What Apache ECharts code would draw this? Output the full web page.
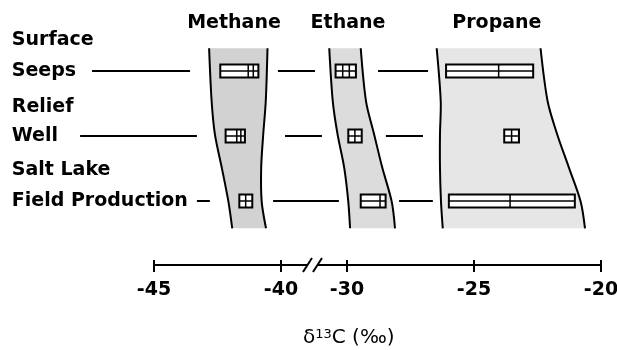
<!DOCTYPE html>
<html>
<head>
<meta charset="utf-8">
<script src="https://cdn.jsdelivr.net/npm/echarts@6/dist/echarts.min.js"></script>
<style>
    html, body { margin: 0; background: #fff; }
    #chart { width: 617px; height: 350px; }
</style>
</head>
<body>
<div id="chart"></div>
<script>
// δ13C (‰) of gas components, axis broken between -40 and -30
const gases = ['Methane', 'Ethane', 'Propane'];
const gasLabelAt = [-41.85, -29.96, -24.1];

const rowLabels = ['Surface', 'Seeps', 'Relief', 'Well', 'Salt Lake', 'Field Production'];
const rowLabelAt = [-0.47, 0, 0.55, 1, 1.53, 2];

// measured ranges: [low, high, dividers], rows: seeps, well, field production
const methaneBoxes = [[-42.39, -40.89, [-41.29, -41.09]], [-42.18, -41.42, [-41.74, -41.58]], [-41.64, -41.13, [-41.39]]];
const ethaneBoxes = [[-30.45, -29.65, [-30.17, -29.91]], [-29.95, -29.42, [-29.69]], [-29.46, -28.48, [-28.7]]];
const propaneBoxes = [[-26.1, -22.67, [-24.03]], [-23.81, -23.23, [-23.52]], [-25.99, -21.03, [-23.58]]];

// shaded envelope of each gas, sampled down the rows
const bandRows = [-0.35, 0.47, 0.98, 1.49, 2.01, 2.42];
const methaneLeft = [-42.83, -42.73, -42.6, -42.33, -42.07, -41.92];
const methaneRight = [-40.53, -40.6, -40.7, -40.78, -40.76, -40.59];
const ethaneLeft = [-30.7, -30.56, -30.37, -30.11, -29.95, -29.88];
const ethaneRight = [-29.46, -29.25, -28.93, -28.61, -28.24, -28.11];
const propaneLeft = [-26.47, -26.31, -26.34, -26.34, -26.3, -26.23];
const propaneRight = [-22.38, -22.1, -21.72, -21.26, -20.8, -20.63];

// leader lines: [row, from, to]
const connectors = [
    [0, -47.44, -43.58], [0, -40.12, -38.66], [0, -28.78, -26.81],
    [1, -47.91, -43.31], [1, -39.84, -38.39], [1, -28.47, -27.01],
    [2, -43.31, -42.8], [2, -40.31, -30.32], [2, -27.95, -26.62]
];

const tickValues = [-45, -40, -30, -25, -20];
const breakAt = -38.76;
const BREAK_SHIFT = 7.4;

const toAxis = (v) => (v < -35 ? v : v - BREAK_SHIFT);
const fromAxis = (d) => (d < -38.7 ? d : d + BREAK_SHIFT);
const nearest = (list, v) => {
    let best = 0;
    list.forEach((x, i) => { if (Math.abs(x - v) < Math.abs(list[best] - v)) best = i; });
    return best;
};

const bands = [
    { left: methaneLeft, right: methaneRight, fill: '#d2d2d2' },
    { left: ethaneLeft, right: ethaneRight, fill: '#dcdcdc' },
    { left: propaneLeft, right: propaneRight, fill: '#e6e6e6' }
];
const boxes = [];
[methaneBoxes, ethaneBoxes, propaneBoxes].forEach((list) => {
    list.forEach((b, row) => boxes.push({ lo: b[0], hi: b[1], splits: b[2], row: row }));
});

const FONT = '"DejaVu Sans", sans-serif';
const chart = echarts.init(document.getElementById('chart'));

chart.setOption({
    animation: false,
    backgroundColor: '#fff',
    title: {
        text: '{d|δ}{s|13}{d|C (‰)}',
        left: 303,
        top: 328,
        padding: 0,
        textStyle: {
            rich: {
                d: { fontSize: 20, fontFamily: FONT, fontWeight: 'normal', color: '#000' },
                s: { fontSize: 13, fontFamily: FONT, fontWeight: 'normal', color: '#000', verticalAlign: 'top' }
            }
        }
    },
    grid: [
        { left: 77.8, right: 16, top: 32, bottom: 110, outerBoundsMode: 'none' },
        { left: 154, right: 16, top: 255, height: 10, outerBoundsMode: 'none' }
    ],
    xAxis: [
        { gridIndex: 0, type: 'value', min: -48, max: -27.4, show: false },
        {
            gridIndex: 0, type: 'value', position: 'top', min: -48, max: -27.4,
            axisLine: { show: false }, axisTick: { show: false }, splitLine: { show: false },
            axisLabel: {
                customValues: gasLabelAt.map(toAxis),
                margin: 9,
                verticalAlign: 'middle',
                fontSize: 19, fontWeight: 'bold', fontFamily: FONT, color: '#000',
                formatter: (v) => gases[nearest(gasLabelAt.map(toAxis), v)]
            }
        },
        {
            gridIndex: 1, type: 'value', position: 'bottom', min: -45, max: -27.4,
            splitLine: { show: false },
            axisLine: { lineStyle: { color: '#000', width: 2 } },
            axisTick: { customValues: tickValues.map(toAxis), length: 7, lineStyle: { color: '#000', width: 2 } },
            axisLabel: {
                customValues: tickValues.map(toAxis),
                margin: 16,
                fontSize: 19, fontWeight: 'bold', fontFamily: FONT, color: '#000',
                formatter: (v) => String(Math.round(fromAxis(v)))
            }
        },
        {
            gridIndex: 1, type: 'value', position: 'bottom', min: -45, max: -27.4,
            splitLine: { show: false }, axisLine: { show: false }, axisLabel: { show: false },
            axisTick: { customValues: tickValues.map(toAxis), inside: true, length: 5, lineStyle: { color: '#000', width: 2 } }
        }
    ],
    yAxis: [
        {
            gridIndex: 0, type: 'value', inverse: true, min: -0.6, max: 2.6,
            axisLine: { show: false }, axisTick: { show: false }, splitLine: { show: false },
            axisLabel: {
                customValues: rowLabelAt,
                align: 'left',
                margin: 66,
                fontSize: 19, fontWeight: 'bold', fontFamily: FONT, color: '#000',
                formatter: (v) => rowLabels[nearest(rowLabelAt, v)]
            }
        },
        { gridIndex: 1, type: 'value', min: 0, max: 1, show: false }
    ],
    series: [
        {
            type: 'custom',
            xAxisIndex: 0, yAxisIndex: 0,
            data: bands.map((b, i) => [i]),
            renderItem: (params, api) => {
                const b = bands[params.dataIndex];
                const left = bandRows.map((r, i) => api.coord([toAxis(b.left[i]), r]));
                const right = bandRows.map((r, i) => api.coord([toAxis(b.right[i]), r]));
                return {
                    type: 'group',
                    children: [
                        { type: 'polygon', shape: { points: left.concat(right.slice().reverse()) }, style: { fill: b.fill } },
                        { type: 'polyline', shape: { points: left, smooth: 0.3 }, style: { stroke: '#000', lineWidth: 2, fill: null } },
                        { type: 'polyline', shape: { points: right, smooth: 0.3 }, style: { stroke: '#000', lineWidth: 2, fill: null } }
                    ]
                };
            }
        },
        {
            type: 'custom',
            xAxisIndex: 0, yAxisIndex: 0,
            data: connectors.map((c) => [toAxis(c[1]), toAxis(c[2]), c[0]]),
            renderItem: (params, api) => {
                const a = api.coord([api.value(0), api.value(2)]);
                const b = api.coord([api.value(1), api.value(2)]);
                return {
                    type: 'line',
                    shape: { x1: a[0], y1: a[1], x2: b[0], y2: b[1] },
                    style: { stroke: '#000', lineWidth: 2 }
                };
            }
        },
        {
            type: 'custom',
            xAxisIndex: 0, yAxisIndex: 0,
            data: boxes.map((b) => [toAxis(b.lo), toAxis(b.hi), b.row]),
            renderItem: (params, api) => {
                const box = boxes[params.dataIndex];
                const a = api.coord([toAxis(box.lo), box.row]);
                const b = api.coord([toAxis(box.hi), box.row]);
                const h = 13;
                const children = [
                    { type: 'rect', shape: { x: a[0], y: a[1] - h / 2, width: b[0] - a[0], height: h }, style: { fill: '#fff', stroke: '#000', lineWidth: 2 } },
                    { type: 'line', shape: { x1: a[0], y1: a[1], x2: b[0], y2: b[1] }, style: { stroke: '#000', lineWidth: 1.5 } }
                ];
                box.splits.forEach((s) => {
                    const p = api.coord([toAxis(s), box.row]);
                    children.push({ type: 'line', shape: { x1: p[0], y1: p[1] - h / 2, x2: p[0], y2: p[1] + h / 2 }, style: { stroke: '#000', lineWidth: 1.5 } });
                });
                return { type: 'group', children: children };
            }
        },
        {
            type: 'custom',
            xAxisIndex: 2, yAxisIndex: 1,
            z: 5,
            data: [[breakAt, 0]],
            renderItem: (params, api) => {
                const p = api.coord([api.value(0), api.value(1)]);
                return {
                    type: 'group',
                    children: [
                        { type: 'rect', shape: { x: p[0] - 5, y: p[1] - 2, width: 10, height: 4 }, style: { fill: '#fff' } },
                        { type: 'line', shape: { x1: p[0] - 9.5, y1: p[1] + 7, x2: p[0] - 0.5, y2: p[1] - 7 }, style: { stroke: '#000', lineWidth: 2 } },
                        { type: 'line', shape: { x1: p[0] + 0.5, y1: p[1] + 7, x2: p[0] + 9.5, y2: p[1] - 7 }, style: { stroke: '#000', lineWidth: 2 } }
                    ]
                };
            }
        }
    ]
});
</script>
</body>
</html>
